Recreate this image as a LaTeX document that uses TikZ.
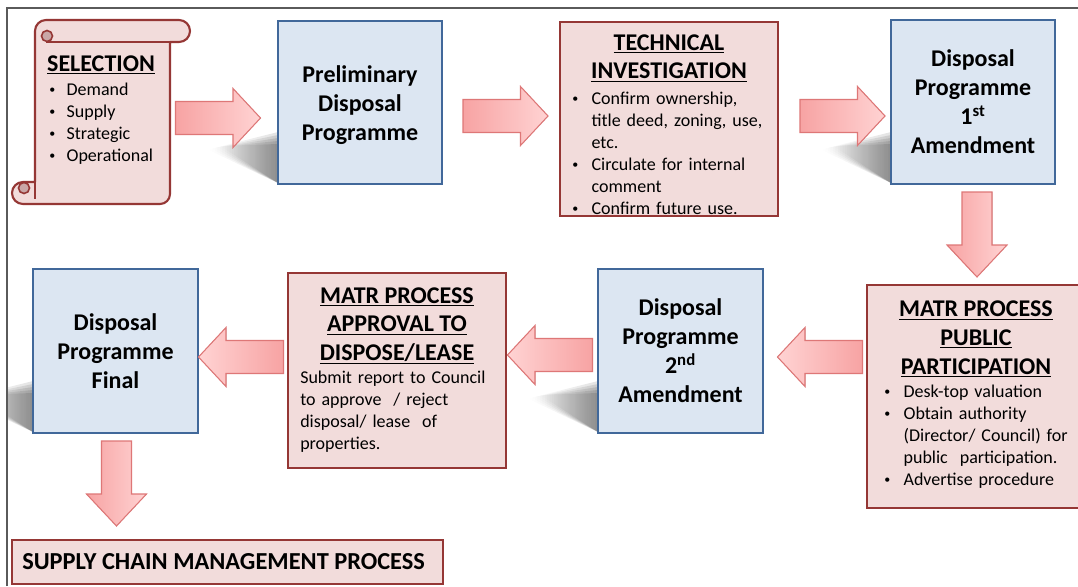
\documentclass[tikz,border=0pt]{standalone}
\usepackage{fontspec}
\setmainfont{Carlito}
\usetikzlibrary{fadings}

\definecolor{redfill}{HTML}{F2DCDB}
\definecolor{redline}{HTML}{953735}
\definecolor{bluefill}{HTML}{DCE6F2}
\definecolor{blueline}{HTML}{41689A}
\definecolor{arrowdark}{HTML}{F7A3A3}
\definecolor{arrowlight}{HTML}{FFD3D3}
\definecolor{arrowline}{HTML}{DE7777}
\definecolor{curlgray}{HTML}{C9A7A7}
\definecolor{framegray}{HTML}{5A5A5A}

% small bullet with hanging indent
\newcommand\smallbullet{\raisebox{1.2pt}{\fontsize{9}{9}\selectfont\textbullet}}
\newcommand\bul[2][14.5pt]{\par\hangindent=#1\hangafter=1\noindent\makebox[#1][l]{\smallbullet}#2}

% block arrow: name, centre, direction, shading
\newcommand\blockarrow[4]{%
  \begin{scope}[shift={(#2)}, rotate=#3]
    \coordinate (#1) at (0,0);
    \filldraw[blockarrowstyle, #4] (-42.5,-16.5) -- (15,-16.5) -- (15,-29.5) -- (42.5,0)
      -- (15,29.5) -- (15,16.5) -- (-42.5,16.5) -- cycle;
  \end{scope}}
\newcommand\blockarrowv[4]{%
  \begin{scope}[shift={(#2)}, rotate=#3]
    \coordinate (#1) at (0,0);
    \filldraw[blockarrowstyle, #4] (-42.5,-15) -- (10.5,-15) -- (10.5,-30) -- (42.5,0)
      -- (10.5,30) -- (10.5,15) -- (-42.5,15) -- cycle;
  \end{scope}}

% soft cast shadow at the lower left corner of a box
\newcommand\softshadow[1]{%
  \begin{scope}[shift={(#1)}]
    \foreach \d in {0,3,6,9,12}
      \fill[black, opacity=0.11, path fading=west] (0,-40-\d) -- (-58-\d,-38+0.3*\d) -- (0,-1) -- cycle;
  \end{scope}}

\tikzset{
  redbox/.style={draw=redline, fill=redfill, line width=1.6pt, inner sep=0pt},
  bluebox/.style={draw=blueline, fill=bluefill, line width=1.5pt, inner sep=0pt,
    font=\fontsize{18}{21.75}\selectfont\bfseries, align=center},
  titletext/.style={font=\fontsize{18}{21.5}\selectfont\bfseries, align=center, inner sep=0pt},
  bodytext/.style={font=\fontsize{13.5}{16.5}\selectfont, align=left, inner sep=0pt},
  blockarrowstyle/.style={draw=arrowline, line width=0.8pt, line join=miter},
  darkleft/.style={left color=arrowdark, right color=arrowlight},
  darkright/.style={left color=arrowlight, right color=arrowdark}
}

\begin{document}
\begin{tikzpicture}[x=0.75pt,y=-0.75pt]
\useasboundingbox (0,0) rectangle (1078,586);
\fill[white] (0,0) rectangle (1078,586);

% soft shadows behind the programme boxes
\softshadow{278,184}
\softshadow{891,184}
\softshadow{598,433}
\begin{scope}
  \clip (8,300) rectangle (40,440);
  \softshadow{33,433}
\end{scope}

% outer frame
\draw[framegray, line width=0.8pt] (7,586) -- (7,8) -- (1078,8);

% selection scroll
\filldraw[draw=redline, fill=redfill, line width=1.6pt, line join=round]
  (46,20) -- (179,20) arc (-90:90:11) -- (170,42) -- (170,194)
  arc (0:90:10) -- (23,204) arc (90:270:11) -- (35,182) -- (35,31)
  arc (180:270:11) -- cycle;
\draw[redline, line width=1.6pt] (46,42) -- (179,42);
\filldraw[draw=redline, fill=curlgray, line width=1.2pt] (47,36) circle (5.5);
\filldraw[draw=redline, fill=curlgray, line width=1.2pt] (24,188) circle (5.5);
\draw[redline, line width=1.6pt] (35,182) -- (35,199);

\node[titletext] (seltitle) at (101,65) {\underline{SELECTION}};
\node[bodytext, text width=110pt, anchor=north west] (selbody) at (49,73)
  {\bul[13pt]{Demand}\bul[13pt]{Supply}\bul[13pt]{Strategic}\bul[13pt]{Operational}};

% programme boxes
\node[bluebox, minimum width=123pt, minimum height=122.25pt] (prelim) at (360,102.5) {};
\node[bluebox, draw=none, fill=none] (prelimtext) at (360,105.5)
  {Preliminary\\Disposal\\Programme};
\node[bluebox, minimum width=123pt, minimum height=123pt] (amend1) at (973,102)
  {Disposal\\Programme\\1\textsuperscript{st}\\Amendment};
\node[bluebox, minimum width=123.75pt, minimum height=123pt] (amend2) at (680.5,351)
  {Disposal\\Programme\\2\textsuperscript{nd}\\Amendment};
\node[bluebox, minimum width=123.75pt, minimum height=123pt] (final) at (115.5,351)
  {Disposal\\Programme\\Final};

% process boxes
\node[redbox, minimum width=163.5pt, minimum height=145.5pt] (tech) at (669,119) {};
\node[titletext] (techtitle) at (669,58)
  {\underline{TECHNICAL}\\\underline{INVESTIGATION}};
\node[bodytext, text width=152pt, anchor=north west] (techbody) at (572,82)
  {\bul{Confirm ownership,\newline title deed, zoning, use,\newline etc.}%
   \bul{Circulate for internal\newline comment}%
   \bul{Confirm future use.}};

\node[redbox, minimum width=163.5pt, minimum height=167.25pt] (public) at (976,396.5) {};
\node[titletext] (pubtitle) at (976,339)
  {\underline{MATR PROCESS}\\\underline{PUBLIC}\\\underline{PARTICIPATION}};
\node[bodytext, text width=150pt, anchor=north west] (pubbody) at (884,375)
  {\bul{Desk-top valuation}%
   \bul{Obtain authority\newline (Director/ Council) for\newline public~ participation.}%
   \bul{Advertise procedure}};

\node[redbox, minimum width=163.5pt, minimum height=146.25pt] (approval) at (397,370.5) {};
\node[titletext] (apptitle) at (397,326)
  {\underline{MATR PROCESS}\\\underline{APPROVAL TO}\\\underline{DISPOSE/LEASE}};
\node[bodytext, text width=155pt, anchor=north west] (appbody) at (300,371)
  {Submit report to Council\newline to approve~ / reject\newline disposal/ lease~ of\newline properties.};

\node[redbox, minimum width=323.25pt, minimum height=33pt] (scm) at (227.5,562) {};
\node[titletext, anchor=west, font=\fontsize{18.3}{21.5}\selectfont\bfseries] (scmtext) at (22,562)
  {SUPPLY CHAIN MANAGEMENT PROCESS};

% block arrows between the stages
\blockarrow{ar1}{218,118}{0}{darkleft}
\blockarrow{ar2}{505.5,116}{0}{darkleft}
\blockarrow{ar3}{842.5,116}{0}{darkleft}
\blockarrowv{ar4}{977,234.5}{270}{darkleft}
\blockarrow{ar5}{820,357}{180}{darkright}
\blockarrow{ar6}{550,355}{180}{darkright}
\blockarrow{ar7}{241,357}{180}{darkright}
\blockarrowv{ar8}{116.5,483.5}{270}{darkleft}
\end{tikzpicture}
\end{document}
